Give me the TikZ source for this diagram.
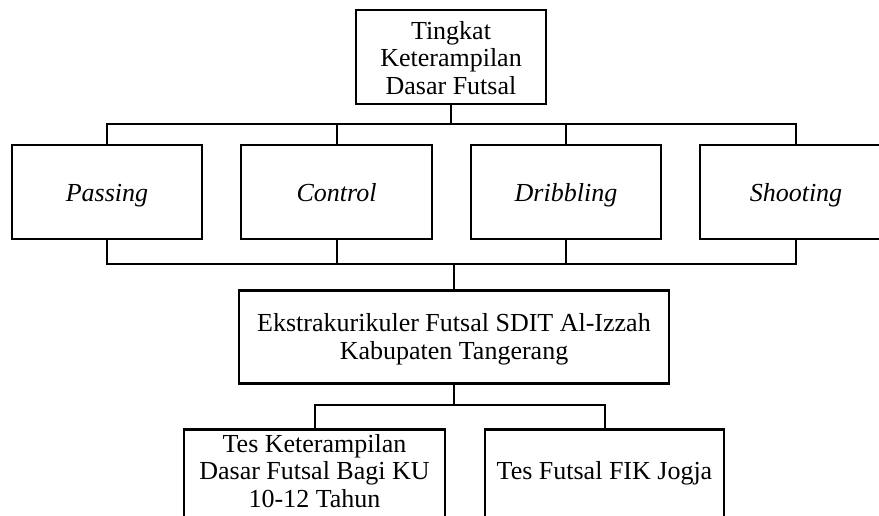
\documentclass[tikz,border=0pt]{standalone}
\usepackage{fontspec}
\setmainfont{Liberation Serif}
\begin{document}
\begin{tikzpicture}[x=1pt,y=1pt,
  box/.style={draw=black,line width=2.2pt,rectangle,inner sep=0pt,minimum height=94pt},
  conn/.style={draw=black,line width=2pt},
  txt/.style={align=center,inner sep=0pt,anchor=base,font=\fontsize{26}{27.5}\selectfont}]
\useasboundingbox (0,0) rectangle (879,-516);
\clip (0,0) rectangle (879,-516);
\node[box,minimum width=190pt] (top) at (451,-57) {};
\node[txt] (toptxt) at (451,-94.5) {Tingkat\\Keterampilan\\Dasar Futsal};
\node[box,minimum width=190pt] (passing) at (107,-192) {};
\node[box,minimum width=191pt] (control) at (336.5,-192) {};
\node[box,minimum width=190pt] (dribbling) at (566,-192) {};
\node[box,minimum width=192pt] (shooting) at (796,-192) {};
\node[txt] (passingtxt) at (107,-201.5) {\itshape Passing};
\node[txt] (controltxt) at (336.5,-201.5) {\itshape Control};
\node[txt] (dribblingtxt) at (566,-201.5) {\itshape Dribbling};
\node[txt] (shootingtxt) at (796,-201.5) {\itshape Shooting};
\node[box,minimum width=430pt,minimum height=93pt] (mid) at (454,-337) {};
\node[txt] (midtxt) at (454,-359) {Ekstrakurikuler Futsal SDIT Al-Izzah\\Kabupaten Tangerang};
\node[box,minimum width=261pt,minimum height=110pt] (bl) at (314.5,-484.5) {};
\node[box,minimum width=239pt,minimum height=110pt] (br) at (604.5,-484.5) {};
\node[txt] (bltxt) at (314.5,-507) {Tes Keterampilan\\Dasar Futsal Bagi KU\\10-12 Tahun};
\node[txt] (brtxt) at (604.5,-479) {Tes Futsal FIK Jogja};
\coordinate (busA) at (0,-124);
\coordinate (busB) at (0,-264);
\coordinate (busC) at (0,-405);
% top bus
\draw[conn] (top.south) -- (top.south |- busA);
\draw[conn] (passing.north) |- (shooting.north |- busA) -- (shooting.north);
\draw[conn] (control.north) -- (control.north |- busA);
\draw[conn] (dribbling.north) -- (dribbling.north |- busA);
% bottom bus
\draw[conn] (passing.south) |- (shooting.south |- busB) -- (shooting.south);
\draw[conn] (control.south) -- (control.south |- busB);
\draw[conn] (dribbling.south) -- (dribbling.south |- busB);
\draw[conn] (mid.north) -- (mid.north |- busB);
% lower bus
\draw[conn] (mid.south) -- (mid.south |- busC);
\draw[conn] (bl.north) |- (br.north |- busC) -- (br.north);
\end{tikzpicture}
\end{document}
